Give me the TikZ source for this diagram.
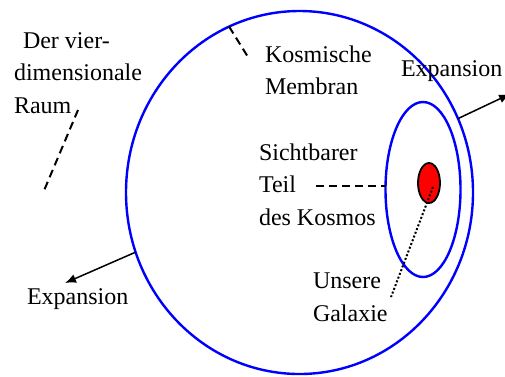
\documentclass[tikz,border=0pt]{standalone}
\usepackage{fontspec}
\setmainfont{Liberation Serif}
\usetikzlibrary{shapes.geometric,arrows.meta}
\definecolor{ringblue}{RGB}{0,0,255}
\definecolor{galred}{RGB}{255,0,0}
\tikzset{
  label/.style={anchor=north west,inner sep=0pt,outer sep=0pt,align=left,font=\fontsize{24}{32.5}\selectfont},
  ring/.style={ellipse,draw=ringblue,line width=2.4pt,inner sep=0pt,outer sep=0pt},
  dashline/.style={line width=2pt,dash pattern=on 8pt off 5pt},
  dotline/.style={line width=2pt,dash pattern=on 2pt off 2pt},
  exparrow/.style={line width=1.5pt,-{Latex[length=11pt,width=9pt]}}
}
\begin{document}
\begin{tikzpicture}[x=1pt,y=-1pt]
\useasboundingbox (0,0) rectangle (505,376);
% shapes
\node[ring,minimum width=347pt,minimum height=363pt] (kosmos) at (299.5,192.5) {};
\node[ring,minimum width=75pt,minimum height=175pt] (sicht) at (423,189.5) {};
\node[ellipse,draw=black,fill=galred,line width=1.8pt,minimum width=22pt,minimum height=40pt,inner sep=0pt] (galaxy) at (429,183) {};
% labels
\node[label] (raum) at (14,32.6) {\hspace{9pt}Der vier-\\dimensionale\\Raum};
\node[label] (membran) at (265,45.6) {Kosmische\\Membran};
\node[label] (expR) at (401,60.6) {Expansion};
\node[label] (teil) at (259,143.6) {Sichtbarer\\Teil\\des Kosmos};
\node[label] (unsere) at (313,273) {Unsere\\Galaxie};
\node[label] (expL) at (27,289) {Expansion};
% connector ends
\coordinate (raumtip) at (78,110);
\coordinate (raumend) at (43,193);
\coordinate (membranend) at (248,57);
\coordinate (teilend) at (316,186);
\coordinate (galaxydot) at (433,187);
\coordinate (unseretip) at (391,297);
\coordinate (expRtip) at (510,94);
\coordinate (expLtip) at (65,283);
% connectors
\draw[dashline] (raumtip) -- (raumend);
\draw[dashline] (kosmos.113.7) -- (membranend);
\draw[dashline] (teilend) -- (teilend -| sicht.west);
\draw[dotline] (galaxydot) -- (unseretip);
\draw[exparrow] (kosmos.25.2) -- (expRtip);
\draw[exparrow] (kosmos.200.5) -- (expLtip);
\end{tikzpicture}
\end{document}
